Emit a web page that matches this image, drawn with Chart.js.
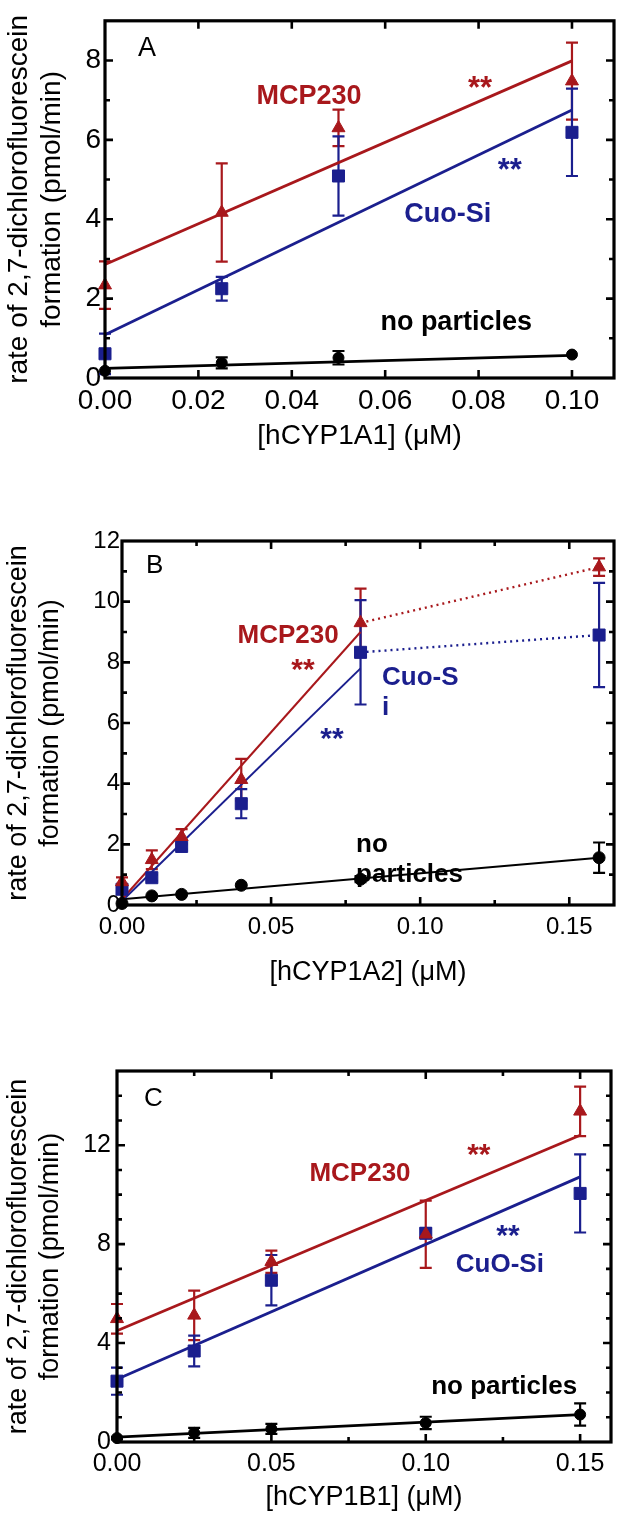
<!DOCTYPE html>
<html>
<head>
<meta charset="utf-8">
<script src="https://cdn.jsdelivr.net/npm/chart.js@4.4.1/dist/chart.umd.min.js"></script>
<style>
  body { margin: 0; background: #fff; width: 624px; height: 1522px; position: relative; overflow: hidden; }
  canvas { position: absolute; left: 0; }
</style>
</head>
<body>
<canvas id="chartA" width="624" height="470" style="top:0px"></canvas>
<canvas id="chartB" width="624" height="520" style="top:480px"></canvas>
<canvas id="chartC" width="624" height="522" style="top:1000px"></canvas>
<script>
// -------- DATA: panel A (hCYP1A1) --------
const xA = [0, 0.025, 0.05, 0.1];
const mcpA = [2.34, 4.17, 6.3, 7.48];
const mcpErrA = [0.6, 1.24, 0.46, 0.97];
const cuoA = [0.61, 2.25, 5.09, 6.19];
const cuoErrA = [0.51, 0.3, 1.0, 1.1];
const noneA = [0.18, 0.38, 0.51, 0.59];
const noneErrA = [0, 0.14, 0.17, 0];
const fitXA = [0, 0.1];
const mcpFitA = [2.86, 7.99];
const cuoFitA = [1.09, 6.75];
const noneFitA = [0.245, 0.57];
const xTicksA = [0, 0.02, 0.04, 0.06, 0.08, 0.1];
const xMinorA = [];
const yTicksA = [0, 2, 4, 6, 8];
const yMinorA = [1, 3, 5, 7, 9];

// -------- DATA: panel B (hCYP1A2) --------
const xB = [0, 0.01, 0.02, 0.04, 0.08, 0.16];
const mcpB = [0.76, 1.49, 2.25, 4.13, 9.3, 11.14];
const mcpErrB = [0.15, 0.31, 0.25, 0.69, 1.13, 0.29];
const cuoB = [0.52, 0.9, 1.93, 3.34, 8.33, 8.9];
const cuoErrB = [0.1, 0.1, 0.1, 0.48, 1.72, 1.72];
const noneB = [0.05, 0.3, 0.35, 0.65, 0.85, 1.56];
const noneErrB = [0, 0, 0, 0, 0.1, 0.5];
const fitXB = [0, 0.08];
const mcpFitB = [0.19, 9.0];
const cuoFitB = [0.13, 7.8];
const noneFitXB = [0, 0.16];
const noneFitB = [0.19, 1.56];
const xTicksB = [0, 0.05, 0.1, 0.15];
const xMinorB = [0.025, 0.075, 0.125];
const yTicksB = [0, 2, 4, 6, 8, 10, 12];
const yMinorB = [1, 3, 5, 7, 9, 11];

// -------- DATA: panel C (hCYP1B1) --------
const xC = [0, 0.025, 0.05, 0.1, 0.15];
const mcpC = [4.98, 5.12, 7.29, 8.4, 13.37];
const mcpErrC = [0.6, 1.0, 0.45, 1.36, 1.0];
const cuoC = [2.46, 3.68, 6.54, 8.44, 10.05];
const cuoErrC = [0.55, 0.62, 1.02, 0.2, 1.58];
const noneC = [0.16, 0.37, 0.53, 0.77, 1.11];
const noneErrC = [0.05, 0.2, 0.2, 0.25, 0.45];
const fitXC = [0, 0.15];
const mcpFitC = [4.5, 12.4];
const cuoFitC = [2.54, 10.72];
const noneFitC = [0.2, 1.11];
const xTicksC = [0, 0.05, 0.1, 0.15];
const xMinorC = [0.025, 0.075, 0.125];
const yTicksC = [0, 4, 8, 12];
const yMinorC = [1, 2, 3, 5, 6, 7, 9, 10, 11, 13, 14, 15];

// -------- TEXT --------
const yTitle = ["rate of 2,7-dichlorofluorescein", "formation (pmol/min)"];

const RED = "#a8181c";
const BLUE = "#1b1f8e";
const BLACK = "#000";
const FONT = "'Liberation Sans', Arial, sans-serif";

// labels placed in data units (s = font size override)
const notesA = [
    { t: "A", x: 0.00707, y: 8.12, c: BLACK, b: false, a: "left" },
    { t: "MCP230", x: 0.0437, y: 6.9, c: RED, b: true, a: "center" },
    { t: "**", x: 0.0803, y: 7.05, c: RED, b: true, a: "center", s: 31 },
    { t: "**", x: 0.0867, y: 4.98, c: BLUE, b: true, a: "center", s: 31 },
    { t: "Cuo-Si", x: 0.0734, y: 3.93, c: BLUE, b: true, a: "center" },
    { t: "no particles", x: 0.0752, y: 1.22, c: BLACK, b: true, a: "center" }
];
const notesB = [
    { t: "B", x: 0.00805, y: 10.95, c: BLACK, b: false, a: "left" },
    { t: "MCP230", x: 0.0557, y: 8.64, c: RED, b: true, a: "center" },
    { t: "**", x: 0.0607, y: 7.45, c: RED, b: true, a: "center", s: 30 },
    { t: "**", x: 0.0704, y: 5.18, c: BLUE, b: true, a: "center", s: 30 },
    { t: "Cuo-S", x: 0.0872, y: 7.25, c: BLUE, b: true, a: "left" },
    { t: "i", x: 0.0872, y: 6.26, c: BLUE, b: true, a: "left" },
    { t: "no", x: 0.0785, y: 1.75, c: BLACK, b: true, a: "left" },
    { t: "particles", x: 0.0785, y: 0.76, c: BLACK, b: true, a: "left" }
];
const notesC = [
    { t: "C", x: 0.00874, y: 13.58, c: BLACK, b: false, a: "left" },
    { t: "MCP230", x: 0.0787, y: 10.54, c: RED, b: true, a: "center" },
    { t: "**", x: 0.1172, y: 11.24, c: RED, b: true, a: "center", s: 30 },
    { t: "**", x: 0.1266, y: 7.97, c: BLUE, b: true, a: "center", s: 30 },
    { t: "CuO-Si", x: 0.124, y: 6.87, c: BLUE, b: true, a: "center" },
    { t: "no particles", x: 0.1254, y: 1.94, c: BLACK, b: true, a: "center" }
];

// -------- HELPERS --------
function pts(xs, ys) {
    return xs.map((x, i) => ({ x: x, y: ys[i] }));
}

function fitLine(xs, ys, color, width, dash) {
    return {
        data: pts(xs, ys), showLine: true, borderColor: color, borderWidth: width,
        borderDash: dash || [], pointRadius: 0, order: 3, clip: false
    };
}

function markers(xs, ys, errs, color, style, r) {
    return {
        data: pts(xs, ys), errors: errs, showLine: false, pointStyle: style,
        pointRadius: r, backgroundColor: color, borderColor: color, borderWidth: 1,
        order: 1, clip: false
    };
}

// labels, error bars, frame and inward ticks
const framePlugin = {
    id: "frame",
    beforeDatasetsDraw(chart, args, opts) {
        const ctx = chart.ctx;
        const x = chart.scales.x, y = chart.scales.y;
        ctx.save();
        ctx.textBaseline = "alphabetic";
        opts.notes.forEach(n => {
            ctx.font = (n.b ? "bold " : "") + (n.s || opts.noteSize) + "px " + FONT;
            ctx.fillStyle = n.c;
            ctx.textAlign = n.a;
            ctx.fillText(n.t, x.getPixelForValue(n.x), y.getPixelForValue(n.y));
        });
        chart.data.datasets.forEach(ds => {
            if (!ds.errors) return;
            ctx.strokeStyle = ds.borderColor;
            ctx.lineWidth = 2.2;
            ds.data.forEach((p, i) => {
                const e = ds.errors[i];
                if (!e) return;
                const px = x.getPixelForValue(p.x);
                const top = y.getPixelForValue(p.y + e);
                const bot = y.getPixelForValue(p.y - e);
                ctx.beginPath();
                ctx.moveTo(px, top); ctx.lineTo(px, bot);
                ctx.moveTo(px - 6, top); ctx.lineTo(px + 6, top);
                ctx.moveTo(px - 6, bot); ctx.lineTo(px + 6, bot);
                ctx.stroke();
            });
        });
        ctx.restore();
    },
    afterDraw(chart, args, opts) {
        const ctx = chart.ctx;
        const a = chart.chartArea;
        const x = chart.scales.x, y = chart.scales.y;
        ctx.save();
        ctx.strokeStyle = "#000";
        ctx.lineWidth = 2.6;
        const tick = (vals, len) => {
            vals.forEach(v => {
                const px = x.getPixelForValue(v);
                if (px < a.left + 1 || px > a.right - 1) return;
                ctx.beginPath();
                ctx.moveTo(px, a.bottom); ctx.lineTo(px, a.bottom - len);
                ctx.moveTo(px, a.top); ctx.lineTo(px, a.top + len);
                ctx.stroke();
            });
        };
        const tickY = (vals, len) => {
            vals.forEach(v => {
                const py = y.getPixelForValue(v);
                if (py < a.top + 1 || py > a.bottom - 1) return;
                ctx.beginPath();
                ctx.moveTo(a.left, py); ctx.lineTo(a.left + len, py);
                ctx.moveTo(a.right, py); ctx.lineTo(a.right - len, py);
                ctx.stroke();
            });
        };
        tick(opts.xTicks, 8);
        tick(opts.xMinor, 5);
        tickY(opts.yTicks, 8);
        tickY(opts.yMinor, 5);
        ctx.lineWidth = 3.2;
        ctx.strokeRect(a.left, a.top, a.right - a.left, a.bottom - a.top);
        ctx.restore();
    }
};

// -------- PANEL --------
function panel(id, cfg) {
    const font = { family: FONT, size: cfg.tickSize };
    const titleFont = { family: FONT, size: cfg.titleSize, lineHeight: 1.2 };
    new Chart(document.getElementById(id), {
        type: "scatter",
        data: { datasets: cfg.datasets },
        plugins: [framePlugin],
        options: {
            responsive: false,
            animation: false,
            events: [],
            layout: { padding: { top: cfg.top, right: 624 - cfg.right, left: 0, bottom: 0 } },
            plugins: {
                legend: { display: false },
                tooltip: { enabled: false },
                frame: {
                    xTicks: cfg.xTicks, xMinor: cfg.xMinor, yTicks: cfg.yTicks, yMinor: cfg.yMinor,
                    notes: cfg.notes, noteSize: cfg.noteSize
                }
            },
            scales: {
                x: {
                    type: "linear", min: 0, max: cfg.xMax,
                    afterBuildTicks: s => { s.ticks = cfg.xTicks.map(v => ({ value: v })); },
                    afterFit: s => { s.height = cfg.xH; },
                    grid: { display: false, drawTicks: false },
                    border: { display: false },
                    ticks: { font: font, color: "#000", padding: cfg.xPad, maxRotation: 0, autoSkip: false, callback: v => v.toFixed(2) },
                    title: { display: true, text: cfg.xTitle, font: titleFont, color: "#000", padding: { top: 0, bottom: cfg.xTitlePad } }
                },
                y: {
                    type: "linear", min: 0, max: cfg.yMax,
                    afterBuildTicks: s => { s.ticks = cfg.yTicks.map(v => ({ value: v })); },
                    afterFit: s => { s.width = cfg.left; },
                    grid: { display: false, drawTicks: false },
                    border: { display: false },
                    ticks: { font: font, color: "#000", padding: cfg.yPad, autoSkip: false, callback: v => String(v) },
                    title: { display: true, text: yTitle, font: titleFont, color: "#000", padding: { top: 2, bottom: 0 } }
                }
            }
        }
    });
}

// -------- INIT --------
panel("chartA", {
    left: 105, right: 614, top: 9, xH: 92, xMax: 0.109, yMax: 9, yPad: 4, xPad: 6, xTitlePad: 17,
    tickSize: 28, titleSize: 28, noteSize: 27,
    xTitle: "[hCYP1A1] (\u03bcM)",
    xTicks: xTicksA, xMinor: xMinorA, yTicks: yTicksA, yMinor: yMinorA, notes: notesA,
    datasets: [
        fitLine(fitXA, mcpFitA, RED, 2.8),
        fitLine(fitXA, cuoFitA, BLUE, 2.8),
        fitLine(fitXA, noneFitA, BLACK, 2.8),
        markers(xA, mcpA, mcpErrA, RED, "triangle", 7.5),
        markers(xA, cuoA, cuoErrA, BLUE, "rect", 8.5),
        markers(xA, noneA, noneErrA, BLACK, "circle", 5.5)
    ]
});

panel("chartB", {
    left: 122, right: 614, top: 61, xH: 95, xMax: 0.165, yMax: 12, yPad: 2, xPad: 8, xTitlePad: 11,
    tickSize: 24, titleSize: 27, noteSize: 26,
    xTitle: "[hCYP1A2] (\u03bcM)",
    xTicks: xTicksB, xMinor: xMinorB, yTicks: yTicksB, yMinor: yMinorB, notes: notesB,
    datasets: [
        fitLine(fitXB, mcpFitB, RED, 2),
        fitLine(fitXB, cuoFitB, BLUE, 2),
        fitLine(noneFitXB, noneFitB, BLACK, 2),
        fitLine(xB.slice(4), mcpB.slice(4), RED, 2.4, [2, 4]),
        fitLine(xB.slice(4), cuoB.slice(4), BLUE, 2.4, [2, 4]),
        markers(xB, mcpB, mcpErrB, RED, "triangle", 7.5),
        markers(xB, cuoB, cuoErrB, BLUE, "rect", 8.5),
        markers(xB, noneB, noneErrB, BLACK, "circle", 6)
    ]
});

panel("chartC", {
    left: 117, right: 611, top: 71, xH: 80, xMax: 0.16, yMax: 15, yPad: 6, xPad: 7, xTitlePad: 8,
    tickSize: 25, titleSize: 27, noteSize: 26,
    xTitle: "[hCYP1B1] (\u03bcM)",
    xTicks: xTicksC, xMinor: xMinorC, yTicks: yTicksC, yMinor: yMinorC, notes: notesC,
    datasets: [
        fitLine(fitXC, mcpFitC, RED, 2.8),
        fitLine(fitXC, cuoFitC, BLUE, 2.8),
        fitLine(fitXC, noneFitC, BLACK, 2.8),
        markers(xC, mcpC, mcpErrC, RED, "triangle", 7.5),
        markers(xC, cuoC, cuoErrC, BLUE, "rect", 8.5),
        markers(xC, noneC, noneErrC, BLACK, "circle", 5.5)
    ]
});
</script>
</body>
</html>
